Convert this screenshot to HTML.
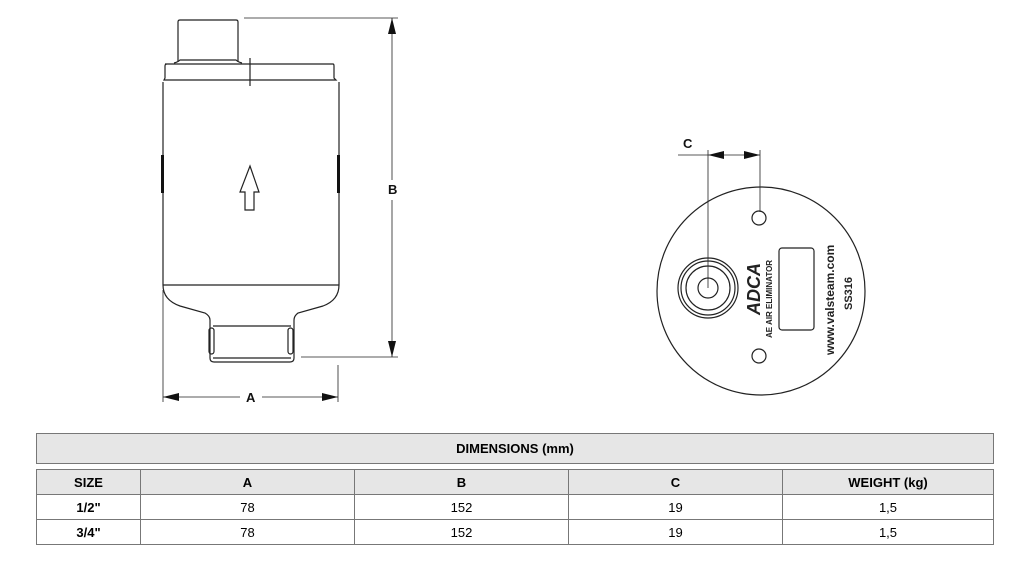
<!DOCTYPE html>
<html><head><style>
body{margin:0;background:#fff;width:1019px;height:583px;overflow:hidden;font-family:"Liberation Sans",Arial,sans-serif}
table{position:absolute;left:36px;top:469px;width:958px;border-collapse:collapse;font-size:13px}
td{border:1px solid #777;text-align:center;height:24px;padding:0}
.h td{background:#e6e6e6;font-weight:bold}
.title{position:absolute;left:36px;top:433px;width:956px;height:29px;border:1px solid #777;background:#e6e6e6;font-weight:bold;font-size:13px;text-align:center;line-height:29px}
</style></head><body>
<svg width="1019" height="583" style="position:absolute;left:0;top:0" font-family="Liberation Sans,Arial,sans-serif">
<g fill="none" stroke="#222" stroke-width="1.2">
<path d="M178 62 V22 Q178 20 180 20 H236 Q238 20 238 22 V62"/>
<path d="M174 63 Q178 62 180 60 H236 Q238 62 242 63"/>
<path d="M165 64 H333 Q334 64 334 66 V78 L336 80 H164 L165 78 V66 Q165 64 167 64 Z"/>
<line x1="250" y1="58" x2="250" y2="86"/>
<path d="M163 82 V285 Q163 300 180 306 L205 313 Q210 316 210 320 V358 Q210 362 214 362 H290 Q294 362 294 358 V320 Q294 316 298 313 L323 306 Q339 300 339 285 V82"/>
<line x1="163" y1="285" x2="339" y2="285"/>
<line x1="213" y1="326" x2="291" y2="326"/>
<line x1="213" y1="358" x2="291" y2="358"/>
<rect x="209" y="328" width="5" height="26" rx="2.5"/>
<rect x="288" y="328" width="5" height="26" rx="2.5"/>
<path d="M250 166 L259 192 H254 V210 H245 V192 H240 Z"/>
<line x1="244" y1="18" x2="398" y2="18" stroke-width="0.8"/>
<line x1="301" y1="357" x2="398" y2="357" stroke-width="0.8"/>
<line x1="392" y1="18" x2="392" y2="180" stroke-width="0.8"/>
<line x1="392" y1="200" x2="392" y2="357" stroke-width="0.8"/>
<line x1="163" y1="290" x2="163" y2="402" stroke-width="0.8"/>
<line x1="338" y1="365" x2="338" y2="402" stroke-width="0.8"/>
<line x1="163" y1="397" x2="240" y2="397" stroke-width="0.8"/>
<line x1="262" y1="397" x2="338" y2="397" stroke-width="0.8"/>
<circle cx="761" cy="291" r="104"/>
<circle cx="708" cy="288" r="30"/><circle cx="708" cy="288" r="27"/><circle cx="708" cy="288" r="22"/><circle cx="708" cy="288" r="10"/>
<circle cx="759" cy="218" r="7"/><circle cx="759" cy="356" r="7"/>
<rect x="779" y="248" width="35" height="82" rx="3"/>
<line x1="708" y1="150" x2="708" y2="288" stroke-width="0.8"/>
<line x1="760" y1="150" x2="760" y2="212" stroke-width="0.8"/>
<line x1="678" y1="155" x2="760" y2="155" stroke-width="0.8"/>
</g>
<g fill="#111">
<rect x="161" y="155" width="3" height="38"/><rect x="337" y="155" width="3" height="38"/>
<path d="M392 18 l-4 16 h8z"/><path d="M392 357 l-4 -16 h8z"/>
<path d="M163 397 l16 -4 v8z"/><path d="M338 397 l-16 -4 v8z"/>
<path d="M708 155 l16 -4 v8z"/><path d="M760 155 l-16 -4 v8z"/>
</g>
<g font-weight="bold" font-size="13" fill="#111">
<text x="388" y="194">B</text><text x="246" y="402">A</text><text x="683" y="148">C</text>
</g>
<g font-weight="bold" fill="#222">
<text transform="translate(760 315) rotate(-90)" font-size="18" font-style="italic">ADCA</text>
<text transform="translate(772 338) rotate(-90)" font-size="8">AE AIR ELIMINATOR</text>
<text transform="translate(834 355) rotate(-90)" font-size="12">www.valsteam.com</text>
<text transform="translate(852 310) rotate(-90)" font-size="11">SS316</text>
</g>
</svg>
<div class="title">DIMENSIONS (mm)</div>
<table>
<tr class="h"><td style="width:103px">SIZE</td><td style="width:213px">A</td><td style="width:213px">B</td><td style="width:213px">C</td><td>WEIGHT (kg)</td></tr>
<tr><td><b>1/2"</b></td><td>78</td><td>152</td><td>19</td><td>1,5</td></tr>
<tr><td><b>3/4"</b></td><td>78</td><td>152</td><td>19</td><td>1,5</td></tr>
</table>
</body></html>
